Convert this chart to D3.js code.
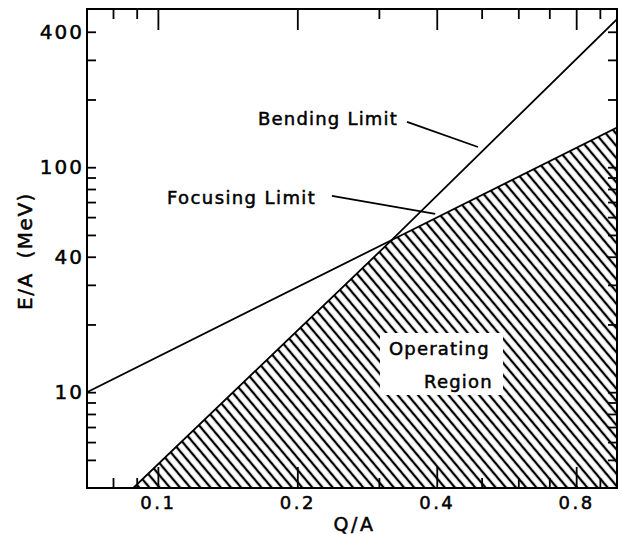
<!DOCTYPE html>
<html>
<head>
<meta charset="utf-8">
<script src="https://cdn.jsdelivr.net/npm/d3@7"></script>
<style>
  body { margin: 0; background: #fff; }
  svg { display: block; }
  text { font-family: "DejaVu Sans", sans-serif; fill: #000; stroke: #000; stroke-width: 0.5px; }
</style>
</head>
<body>
<svg id="chart" width="622" height="534"></svg>
<script>
// ---- data ----
const qDomain = [0.0703, 0.98];          // Q/A axis extent
const eDomain = [3.75, 505];             // E/A axis extent (MeV)

const xMajorTicks = [0.1, 0.2, 0.4, 0.8];
const xMinorTicks = [0.08, 0.09, 0.3, 0.5, 0.6, 0.7, 0.9];
const yMajorTicks = [10, 40, 100, 400];
const yMinorTicks = [5, 6, 7, 8, 9, 20, 30, 50, 60, 70, 80, 90, 200, 300];

// Focusing limit line
const focusingQ = [0.0703, 0.32, 0.98];
const focusingE = [10, 47.5, 150];
// Bending limit line
const bendingQ = [0.0885, 0.32, 0.98];
const bendingE = [3.75, 47.5, 455];
// Operating region (hatched)
const regionQ = [0.0885, 0.32, 0.98, 0.98];
const regionE = [3.75, 47.5, 150, 3.75];
// Leader lines for the labels
const bendLeaderQ = [0.345, 0.491];
const bendLeaderE = [159, 123];
const focLeaderQ = [0.2375, 0.397];
const focLeaderE = [74.5, 62];

// ---- layout ----
const L = 87, R = 617, T = 9, B = 488;

const svg = d3.select("#chart");
const x = d3.scaleLog().domain(qDomain).range([L, R]);
const y = d3.scaleLog().domain(eDomain).range([B, T]);

const zip = (qs, es) => qs.map((q, i) => ({ q, e: es[i] }));
const line = d3.line().x(d => x(d.q)).y(d => y(d.e));

// hatch pattern
const defs = svg.append("defs");
const pat = defs.append("pattern")
  .attr("id", "hatch")
  .attr("patternUnits", "userSpaceOnUse")
  .attr("width", 7.8).attr("height", 7.8)
  .attr("patternTransform", "rotate(-40)");
pat.append("line")
  .attr("x1", 3.9).attr("y1", -1).attr("x2", 3.9).attr("y2", 9)
  .attr("stroke", "#000").attr("stroke-width", 2.3);
defs.append("clipPath").attr("id", "plotclip")
  .append("rect").attr("x", L).attr("y", T).attr("width", R - L).attr("height", B - T);

const plot = svg.append("g").attr("clip-path", "url(#plotclip)");

// operating region
plot.append("path")
  .attr("d", line(zip(regionQ, regionE)) + "Z")
  .attr("fill", "url(#hatch)")
  .attr("stroke", "none");

// limit lines
plot.append("path").attr("d", line(zip(focusingQ, focusingE)))
  .attr("fill", "none").attr("stroke", "#000").attr("stroke-width", 1.8);
plot.append("path").attr("d", line(zip(bendingQ, bendingE)))
  .attr("fill", "none").attr("stroke", "#000").attr("stroke-width", 1.8);

// leader lines
plot.append("path").attr("d", line(zip(bendLeaderQ, bendLeaderE)))
  .attr("fill", "none").attr("stroke", "#000").attr("stroke-width", 1.8);
plot.append("path").attr("d", line(zip(focLeaderQ, focLeaderE)))
  .attr("fill", "none").attr("stroke", "#000").attr("stroke-width", 1.8);

// Operating Region label box
svg.append("rect").attr("x", 380).attr("y", 333).attr("width", 123).attr("height", 62)
  .attr("fill", "#fff").attr("stroke", "none");

const annStyle = sel => sel.attr("font-size", 18).attr("letter-spacing", 1.2);
svg.append("text").attr("x", 258).attr("y", 125).text("Bending Limit").call(annStyle);
svg.append("text").attr("x", 167).attr("y", 204).attr("letter-spacing", 1.4).text("Focusing Limit")
  .attr("font-size", 18);
svg.append("text").attr("x", 389).attr("y", 355).text("Operating").call(annStyle);
svg.append("text").attr("x", 424).attr("y", 388).text("Region").call(annStyle);

// axes (ticks point inward)
function styleAxis(g, fs, ls) {
  g.select(".domain").remove();
  g.selectAll(".tick line").attr("stroke", "#000").attr("stroke-width", 1.8);
  g.selectAll(".tick text").attr("font-size", fs).attr("letter-spacing", ls)
    .attr("font-family", "DejaVu Sans, sans-serif").attr("fill", "#000");
}

svg.append("g").attr("transform", `translate(0,${B})`)
  .call(d3.axisBottom(x).tickValues(xMajorTicks).tickSizeInner(-21).tickSizeOuter(0)
    .tickPadding(8).tickFormat(d => String(d)))
  .call(g => styleAxis(g, 18, 2.5));
svg.append("g").attr("transform", `translate(0,${B})`)
  .call(d3.axisBottom(x).tickValues(xMinorTicks).tickSizeInner(-10).tickSizeOuter(0).tickFormat(""))
  .call(g => styleAxis(g, 17, 0));
svg.append("g").attr("transform", `translate(0,${T})`)
  .call(d3.axisTop(x).tickValues(xMajorTicks).tickSizeInner(-21).tickSizeOuter(0).tickFormat(""))
  .call(g => styleAxis(g, 17, 0));
svg.append("g").attr("transform", `translate(0,${T})`)
  .call(d3.axisTop(x).tickValues(xMinorTicks).tickSizeInner(-10).tickSizeOuter(0).tickFormat(""))
  .call(g => styleAxis(g, 17, 0));

svg.append("g").attr("transform", `translate(${L},0)`)
  .call(d3.axisLeft(y).tickValues(yMajorTicks).tickSizeInner(-9).tickSizeOuter(0)
    .tickPadding(3).tickFormat(d => String(d)))
  .call(g => styleAxis(g, 20, 2));
svg.append("g").attr("transform", `translate(${L},0)`)
  .call(d3.axisLeft(y).tickValues(yMinorTicks).tickSizeInner(-9).tickSizeOuter(0).tickFormat(""))
  .call(g => styleAxis(g, 19, 0));
svg.append("g").attr("transform", `translate(${R},0)`)
  .call(d3.axisRight(y).tickValues(yMajorTicks.concat(yMinorTicks)).tickSizeInner(-9).tickSizeOuter(0).tickFormat(""))
  .call(g => styleAxis(g, 19, 0));

// frame
svg.append("rect").attr("x", L).attr("y", T).attr("width", R - L).attr("height", B - T)
  .attr("fill", "none").attr("stroke", "#000").attr("stroke-width", 2);

// axis titles
svg.append("text").attr("x", 354.5).attr("y", 531).attr("text-anchor", "middle")
  .attr("font-size", 19).attr("letter-spacing", 2.5).text("Q/A");
svg.append("text").attr("transform", "translate(32,251) rotate(-90)")
  .attr("text-anchor", "middle").attr("font-size", 20).attr("letter-spacing", 1.5)
  .attr("word-spacing", 6).text("E/A (MeV)");
</script>
</body>
</html>
